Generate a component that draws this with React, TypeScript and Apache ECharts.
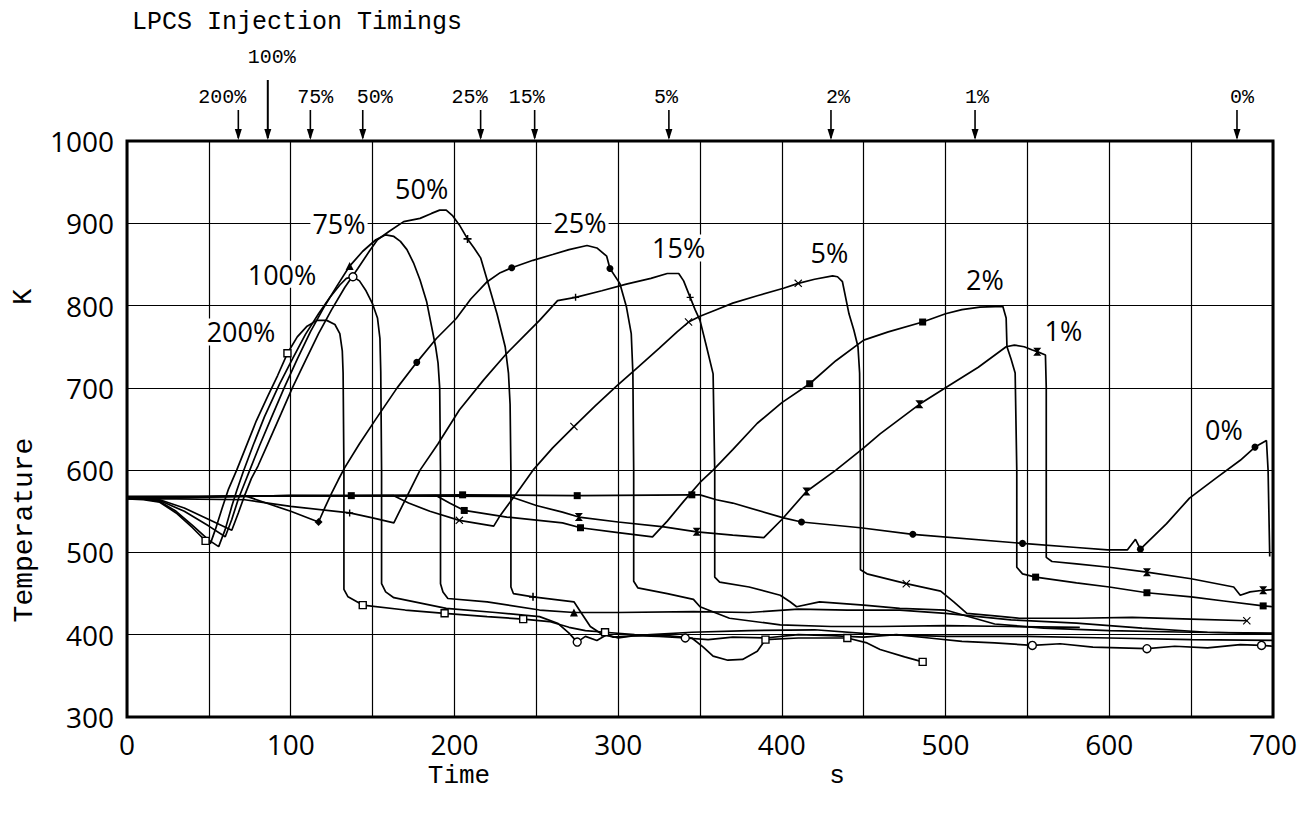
import React, { useEffect, useRef } from 'react';
import * as echarts from 'echarts';

// ---------- axes ----------
const xTickLabels = [0, 100, 200, 300, 400, 500, 600, 700];
const yTickLabels = [300, 400, 500, 600, 700, 800, 900, 1000];

// ---------- curves (time s, temperature K) ----------
const c200: number[][] = [[0,565],[10,564],[20,561],[30,548],[40,530],[48,514],[51,511],[54,528],[58,553],[62,577],[67,600],[72,625],[79,660],[86,690],[92,715],[98,742],[104,762],[110,775],[116,782],[122,782],[127,777],[130,766],[131.5,745],[132,718],[132.5,600],[132.5,455],[135,446],[144,436],[170,430],[194,426],[220,422],[242,419],[258,416],[270,409],[280,405],[292,403],[310,400],[330,399],[345,396],[352,385],[358,374],[367,369],[376,370],[385,380],[390,394],[410,396],[440,396],[452,390],[460,382],[475,373],[486,367]];
const c100: number[][] = [[0,566],[10,565],[20,562],[30,550],[40,533],[50,515],[56,507],[60,528],[64,556],[67,575],[71,598],[77,630],[84,665],[93,704],[101,735],[109,765],[117,790],[124,810],[130,825],[134,833],[138,835],[142,830],[146,818],[150,802],[153,785],[154.5,760],[155,720],[155.5,600],[155.5,462],[158,452],[163,445],[195,432],[225,427],[252,422],[263,414],[270,402],[275,391],[280,398],[287,393],[293,400],[300,396],[310,399],[325,398],[341,396],[355,394],[370,397],[390,396],[410,400],[430,399],[450,397],[470,400],[490,396],[510,392],[530,390],[553,387],[570,389],[590,385],[623,383],[640,386],[660,384],[680,388],[693,387],[700,386]];
const c75: number[][] = [[0,566],[10,566],[20,563],[35,550],[50,532],[60,519],[64,540],[68,565],[72,585],[75,600],[81,630],[88,663],[96,700],[104,735],[112,768],[120,797],[128,823],[136,848],[144,866],[152,880],[158,886],[163,884],[167,878],[171,868],[175,852],[179,831],[183,805],[186,775],[188.5,750],[190,730],[191,700],[191.5,600],[191.5,462],[193,452],[196,444],[220,440],[252,430],[273,427],[300,427],[346,428],[380,427],[410,431],[440,430],[472,430],[500,426],[540,418],[580,414],[620,408],[660,403],[700,401]];
const c50: number[][] = [[0,567],[10,566],[20,564],[35,554],[50,540],[64,527],[68,548],[72,570],[76,590],[80,605],[86,632],[94,668],[101,700],[109,733],[117,766],[125,795],[133,822],[141,845],[148,866],[153,880],[160,890],[169,902],[179,906],[186,912],[191,916],[195,916],[199,909],[203,898],[208,881],[212,870],[216,858],[220,831],[226,790],[231,750],[233,718],[234,680],[234.5,600],[234.5,458],[236,450],[248,446],[273,440],[277,428],[283,410],[289,402],[297,397],[320,400],[345,403],[380,405],[420,406],[460,400],[500,398],[550,398],[600,396],[650,394],[700,393]];
const c25: number[][] = [[0,566],[20,566],[40,567],[72,569],[85,560],[100,550],[117,537],[121,555],[125,572],[129,588],[133,603],[142,632],[152,662],[165,700],[177,731],[189,760],[201,784],[210,808],[220,829],[228,840],[235,846],[248,855],[260,862],[270,868],[281,873],[287,870],[293,860],[295,845],[301,827],[305,799],[308,766],[309,718],[309.5,600],[309.5,465],[312,457],[330,450],[346,443],[350,434],[368,420],[399,412],[430,410],[460,410],[500,411],[540,410],[582,409]];
const c15: number[][] = [[0,565],[30,565],[72,564],[100,556],[136,548],[150,542],[163,536],[166,548],[172,572],[179,600],[190,632],[203,673],[218,710],[232,742],[245,768],[252,782],[263,806],[274,810],[290,818],[305,826],[320,833],[330,839],[337,839],[340,830],[344,810],[347,795],[350,782],[354,750],[358,717],[359,600],[359,470],[362,464],[380,458],[399,448],[405,440],[409,434],[423,440],[450,436],[472,432],[500,430],[530,413],[560,408],[600,405],[650,403],[700,402]];
const c5: number[][] = [[0,566],[60,568],[100,569],[163,569],[172,560],[185,550],[203,539],[224,532],[228,545],[238,572],[248,600],[260,627],[273,653],[286,678],[299,702],[312,725],[325,748],[336,768],[343,780],[350,787],[360,795],[370,803],[385,812],[401,821],[410,827],[420,832],[431,836],[434,835],[437,829],[441,790],[444,770],[446.5,750],[447.5,718],[448,600],[448,479],[452,474],[460,470],[476,462],[490,456],[497,453],[505,440],[513,426],[530,423],[545,420],[580,420],[614,421],[650,419],[684,417]];
const c2: number[][] = [[0,566],[100,569],[189,569],[197,560],[206,551],[232,543],[266,536],[277,530],[300,524],[321,519],[330,538],[340,562],[350,585],[358,600],[370,625],[385,657],[400,682],[417,705],[433,733],[450,758],[465,768],[486,780],[500,790],[510,795],[521,798],[535,799],[537,785],[537.5,750],[540,735],[542.5,718],[543.5,600],[543.5,482],[547,474],[555,470],[580,463],[600,458],[623,451],[650,446],[670,441],[694,435],[700,434]];
const c1: number[][] = [[0,566],[100,569],[234,568],[250,557],[266,549],[276,543],[300,537],[328,531],[348,525],[370,521],[389,518],[400,540],[415,574],[433,600],[450,627],[460,644],[484,680],[499,699],[520,725],[537,750],[542,752],[548,750],[553,746],[556,744],[561,740],[561.5,700],[561.5,494],[565,489],[580,486],[600,482],[623,476],[650,468],[676,458],[680,448],[686,452],[694,454],[700,455]];
const c0: number[][] = [[0,568],[137,569],[205,570],[275,569],[345,570],[350,570],[360,564],[370,560],[401,542],[412,537],[448,530],[480,522],[547,511],[580,506],[599,503],[611,503],[616,516],[619,504],[635,535],[649,566],[665,590],[680,612],[689,628],[696,636],[697,600],[698,495]];

// ---------- markers on curves ----------
const m200: number[][] = [[48,514],[98,742],[144,436],[194,426],[242,419],[292,403],[390,394],[440,396],[486,367]];
const m100: number[][] = [[138,835],[275,391],[341,396],[553,387],[623,383],[693,387]];
const m75: number[][] = [[136,848],[273,427]];
const m50: number[][] = [[208,881],[248,446]];
const m25a: number[][] = [[117,537]];
const m25b: number[][] = [[177,731],[235,846],[295,845]];
const m15: number[][] = [[136,548],[274,810],[344,810]];
const m5: number[][] = [[203,539],[273,653],[343,780],[410,827],[476,462],[684,417]];
const m2: number[][] = [[206,551],[277,530],[417,705],[486,780],[555,470],[623,451],[694,435]];
const m1: number[][] = [[276,543],[348,525],[415,574],[484,680],[556,744],[623,476],[694,454]];
const m0a: number[][] = [[137,569],[205,570],[275,569],[345,570]];
const m0b: number[][] = [[412,537],[480,522],[547,511],[619,504],[689,628]];

// ---------- curve labels ----------
const curveNames = ['200%', '100%', '75%', '50%', '25%', '15%', '5%', '2%', '1%', '0%'];
const curveLabelAt: number[][] = [[69.6,768],[94.7,838],[129.5,900],[180,942],[276.7,901],[337,870],[429,864],[524,832],[572,770],[670,649]];

// ---------- LPCS injection timings (s) ----------
const injectNames = ['200%', '100%', '75%', '50%', '25%', '15%', '5%', '2%', '1%', '0%'];
const injectTimes = [68, 86, 112, 144, 216, 249, 331, 430, 518, 678];
const injectLabelDx = [-16, 4, 5, 12, -11, -8, -3, 7, 2, 5];

const XSYM = 'path://M0,1L1,0L5,4L9,0L10,1L6,5L10,9L9,10L5,6L1,10L0,9L4,5Z';
const PLUS = 'path://M4,0H6V4H10V6H6V10H4V6H0V4H4Z';
const HOUR = 'path://M0,0H10L6,5L10,10H0L4,5Z';

export default function App() {
  const ref = useRef<HTMLDivElement>(null);
  useEffect(() => {
    const chart = echarts.init(ref.current!, null, { renderer: 'svg' });
    const curves = [c200, c100, c75, c50, c25, c15, c5, c2, c1, c0];
    const lineSeries = curves.map((d, i) => ({
      type: 'line',
      name: curveNames[i],
      data: d,
      symbol: 'none',
      lineStyle: { color: '#000', width: 1.7 },
      z: 3,
    }));
    const mk = (data: number[][], symbol: string, size: number, hollow: boolean) => ({
      type: 'scatter',
      data,
      symbol,
      symbolSize: size,
      itemStyle: hollow
        ? { color: '#fff', borderColor: '#000', borderWidth: 1.4, opacity: 1 }
        : { color: '#000', opacity: 1 },
      z: 5,
    });
    const markerSeries = [
      mk(m200, 'rect', 7, true),
      mk(m100, 'circle', 8, true),
      mk(m75, 'triangle', 8, false),
      mk(m50, PLUS, 8, false),
      mk(m25a, 'diamond', 8, false),
      mk(m25b, 'circle', 7, false),
      mk(m15, PLUS, 7, false),
      mk(m5, XSYM, 8, false),
      mk(m2, 'rect', 7, false),
      mk(m1, HOUR, 8, false),
      mk(m0a, 'rect', 7, false),
      mk(m0b, 'circle', 7, false),
    ];
    const sans = 'Open Sans, DejaVu Sans, sans-serif';
    const labelSeries = {
      type: 'scatter',
      data: curveLabelAt.map((p, i) => ({ name: curveNames[i], value: p })),
      symbolSize: 1,
      itemStyle: { color: 'rgba(0,0,0,0)', opacity: 1 },
      label: {
        show: true,
        position: 'inside',
        formatter: (p: any) => p.name,
        color: '#000',
        fontFamily: sans,
        fontWeight: 'normal',
        fontSize: 27,
        backgroundColor: '#fff',
        padding: [0, 2],
        textBorderWidth: 0,
      },
      z: 6,
    };
    const tickFont = { fontFamily: sans, fontWeight: 'normal', fontSize: 28, color: '#000' };
    chart.setOption({
      animation: false,
      backgroundColor: '#fff',
      grid: { left: 127, right: 32, top: 141, bottom: 96, show: true, borderColor: '#000', borderWidth: 3, backgroundColor: '#fff', outerBoundsMode: 'none' } as any,
      xAxis: {
        type: 'value', min: 0, max: 700, interval: 50,
        axisLine: { show: false }, axisTick: { show: false },
        splitLine: { show: true, lineStyle: { color: '#000', width: 1.2 } },
        axisLabel: { ...tickFont, margin: 13, formatter: (v: number) => (xTickLabels.includes(v) ? String(v) : '') },
      },
      yAxis: {
        type: 'value', min: 300, max: 1000, interval: 100,
        axisLine: { show: false }, axisTick: { show: false },
        splitLine: { show: true, lineStyle: { color: '#000', width: 1.2 } },
        axisLabel: { ...tickFont, margin: 13, formatter: (v: number) => (yTickLabels.includes(v) ? String(v) : '') },
      },
      series: [...lineSeries, ...markerSeries, labelSeries],
    });

    const xp = (t: number) => chart.convertToPixel({ xAxisIndex: 0 }, t) as number;
    const yTop = chart.convertToPixel({ yAxisIndex: 0 }, 1000) as number;
    const mono = 'Liberation Mono, DejaVu Sans Mono, monospace';
    const txt = (text: string, x: number, y: number, size: number, family: string, extra: any = {}) => ({
      type: 'text', x, y, ...extra,
      style: { text, fill: '#000', fontSize: size, fontFamily: family, textAlign: 'center', textVerticalAlign: 'middle', align: 'center', verticalAlign: 'middle' },
      z: 10,
    });
    const graphics: any[] = [];
    graphics.push({
      type: 'text', x: 132, y: 22,
      style: { text: 'LPCS Injection Timings', fill: '#000', fontSize: 25, fontFamily: mono, textAlign: 'left', textVerticalAlign: 'middle', align: 'left', verticalAlign: 'middle' },
    });
    injectTimes.forEach((t, i) => {
      const x = xp(t);
      const long = injectNames[i] === '100%';
      const y0 = long ? 80 : 110;
      graphics.push({ type: 'line', shape: { x1: x, y1: y0, x2: x, y2: yTop - 3 }, style: { stroke: '#000', lineWidth: long ? 2 : 1.6 } });
      graphics.push({ type: 'polygon', shape: { points: [[x - 3.5, yTop - 12], [x + 3.5, yTop - 12], [x, yTop - 1]] }, style: { fill: '#000' } });
      graphics.push(txt(injectNames[i], x + injectLabelDx[i], long ? 57 : 97, 20, mono));
    });
    graphics.push(txt('K', 24, 297, 27, mono, { rotation: Math.PI / 2 }));
    graphics.push(txt('Temperature', 24, 530, 28, mono, { rotation: Math.PI / 2 }));
    graphics.push(txt('Time', 459, 776, 26, mono));
    graphics.push(txt('s', 837, 776, 26, mono));
    chart.setOption({ graphic: graphics });
    return () => chart.dispose();
  }, []);
  return <div ref={ref} style={{ position: 'fixed', left: 0, top: 0, width: 1305, height: 813, background: '#fff' }} />;
}
